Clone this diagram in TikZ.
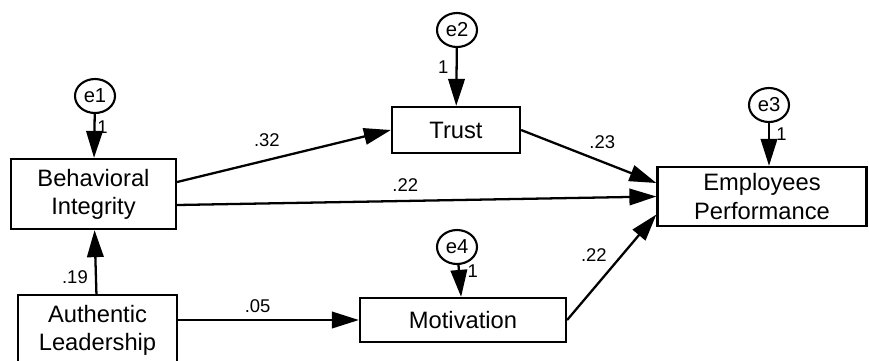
\documentclass[tikz,border=0pt]{standalone}
\usepackage{fontspec}
\setmainfont{Liberation Sans}
\usetikzlibrary{arrows.meta, shapes.geometric}

\tikzset{
  obs/.style={draw, line width=1.3pt, align=center, inner sep=0pt,
    font=\fontsize{13.5}{16}\selectfont},
  err/.style={draw, ellipse, line width=1.2pt, inner sep=0pt,
    minimum width=0.8cm, minimum height=0.68cm, font=\fontsize{11.5}{12}\selectfont},
  reg/.style={line width=1.3pt, -{Triangle[length=0.54cm, width=0.33cm]}},
  coef/.style={font=\fontsize{10.5}{12}\selectfont, inner sep=1pt},
}

\begin{document}
\begin{tikzpicture}[x=0.02cm, y=-0.02cm]
  \clip (0,0) rectangle (869,360);
  \fill[white] (0,0) rectangle (869,360);

  % observed variables
  \node[obs, minimum width=3.3cm, minimum height=1.4cm] (BI) at (93.5,194) {Behavioral\\Integrity};
  \node[obs, minimum width=3.18cm, minimum height=1.4cm] (AL) at (97.5,330) {Authentic\\Leadership};
  \node[obs, minimum width=2.56cm, minimum height=0.92cm] (Trust) at (456,130) {Trust};
  \node[obs, minimum width=4.12cm, minimum height=0.88cm] (Mot) at (463,320) {Motivation};
  \node[obs, minimum width=4.18cm, minimum height=1.18cm] (EP) at (762,196.5) {Employees\\Performance};

  % error terms
  \node[err] (e1) at (95,96) {e1};
  \node[err] (e2) at (457,30) {e2};
  \node[err] (e3) at (769,105) {e3};
  \node[err] (e4) at (457,247) {e4};

  \draw[reg] (e1) -- node[coef, pos=0.3, right=0pt] (w1) {1} (BI);
  \draw[reg] (e2) -- node[coef, pos=0.33, left=3pt] (w2) {1} (Trust);
  \draw[reg] (e3) -- node[coef, pos=0.25, right=2.5pt] (w3) {1} (e3 |- EP.north);
  \draw[reg] (e4) -- node[coef, pos=0.2, right=3.3pt] (w4) {1} (Mot);

  % paths
  \draw[reg] (AL) -- node[coef, pos=0.27, left=3pt] (w5) {.19} (BI);
  \draw[reg] ([yshift=0.24cm]BI.east) -- node[coef, pos=0.42, above=6pt] (w6) {.32} (Trust.west);
  \draw[reg] ([yshift=-0.22cm]BI.east) -- node[coef, pos=0.476, above=4pt] (w7) {.22} (EP.west);
  \draw[reg] (Trust.east) -- node[coef, pos=0.6, above=6pt] (w8) {.23} ([yshift=0.27cm]EP.west);
  \draw[reg] (Mot.east) -- node[coef, pos=0.62, left=7.3pt] (w9) {.22} ([yshift=-0.36cm]EP.west);
  \draw[reg] (AL.east |- Mot.west) -- node[coef, pos=0.44, above=2.4pt] (w10) {.05} (Mot.west);
\end{tikzpicture}
\end{document}
